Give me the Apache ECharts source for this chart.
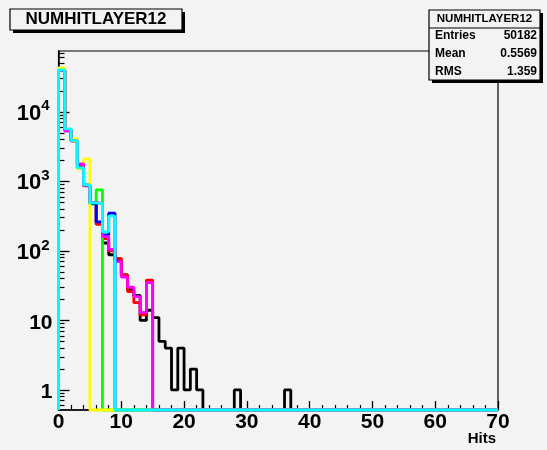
<!DOCTYPE html>
<html>
<head>
<meta charset="utf-8">
<script src="https://cdn.jsdelivr.net/npm/echarts@6/dist/echarts.min.js"></script>
<style>
  html, body { margin: 0; padding: 0; background: #f3f3f3; }
  #chart { width: 547px; height: 450px; }
</style>
</head>
<body>
<div id="chart"></div>
<script>
// ---- Data (bin contents, bins of width 1 starting at 0; bins not listed are empty) ----
var binWidth = 1;
var xTicks = [0, 10, 20, 30, 40, 50, 60, 70];
var yTicks = [1, 10, 100, 1000, 10000];
var blackBins   = [39500, 5400, 3850, 1550, 870, 480, 250, 130, 88, 75, 45, 28, 23, 10, 14, 11, 5, 4, 1, 4, 1, 2, 1, 0, 0, 0, 0, 0, 1, 0, 0, 0, 0, 0, 0, 0, 1];
var redBins     = [39500, 5500, 3800, 1700, 860, 480, 240, 150, 100, 78, 45, 26, 18, 12, 38];
var greenBins   = [39500, 5600, 3850, 1550, 880, 470, 755];
var blueBins    = [39500, 5600, 3850, 1550, 880, 480, 262, 170, 350];
var yellowBins  = [43000, 5600, 4100, 1500, 2100];
var magentaBins = [39500, 5300, 3850, 1790, 880, 500, 480, 160, 105, 70, 42, 30, 22, 13, 35];
var cyanBins    = [40000, 5700, 3850, 1560, 890, 490, 480, 188, 317];
var statsTitle = 'NUMHITLAYER12';
var statsRows = [['Entries', '50182'], ['Mean', '0.5569'], ['RMS', '1.359']];

var X_MIN = 0, X_MAX = 70;
var Y_MIN = 0.515, Y_MAX = 75000;

// Build histogram outline points (empty bins drawn on the frame floor, as ROOT does on log scale)
function stepPoints(bins) {
  var pts = [[X_MIN, Y_MIN]];
  for (var k = X_MIN; k < X_MAX; k += binWidth) {
    var i = Math.round((k - X_MIN) / binWidth);
    var v = i < bins.length ? bins[i] : 0;
    var yv = v > 0 ? v : Y_MIN;
    pts.push([k, yv]);
    pts.push([k + binWidth, yv]);
  }
  return pts;
}

var hists = [
  {name: 'h1', color: '#000000', bins: blackBins},
  {name: 'h2', color: '#ff0000', bins: redBins},
  {name: 'h3', color: '#00ff00', bins: greenBins},
  {name: 'h4', color: '#0000ff', bins: blueBins},
  {name: 'h5', color: '#ffff00', bins: yellowBins},
  {name: 'h6', color: '#ff00ff', bins: magentaBins},
  {name: 'h7', color: '#00ffff', bins: cyanBins}
];

var minorY = [];
[0.1, 1, 10, 100, 1000, 10000].forEach(function (d) {
  for (var m = 2; m <= 9; m++) {
    var v = d * m;
    if (v > Y_MIN && v < Y_MAX) minorY.push(v);
  }
});

var FONT = '"Liberation Sans", Arial, Helvetica, sans-serif';

var chart = echarts.init(document.getElementById('chart'), null, {renderer: 'canvas'});

var option = {
  backgroundColor: '#f3f3f3',
  animation: false,
  grid: {
    left: 58.5, top: 51, right: 49, bottom: 40,
    show: true, borderColor: '#000', borderWidth: 1.2, backgroundColor: 'transparent'
  },
  xAxis: {
    type: 'value', min: X_MIN, max: X_MAX, interval: 10,
    axisLine: {show: true, onZero: false, lineStyle: {color: '#000', width: 1.5}},
    axisTick: {show: true, inside: true, length: 9, lineStyle: {color: '#000', width: 1.3}, customValues: xTicks},
    minorTick: {show: true, splitNumber: 5, length: 5, lineStyle: {color: '#000', width: 1.2}},
    axisLabel: {
      show: true, margin: 2, color: '#000', fontFamily: FONT, fontSize: 21, fontWeight: 'bold',
      customValues: xTicks, showMinLabel: true, showMaxLabel: true
    },
    splitLine: {show: false}
  },
  yAxis: [{
    type: 'log', logBase: 10, min: Y_MIN, max: Y_MAX,
    axisLine: {show: true, lineStyle: {color: '#000', width: 1.5}},
    axisTick: {show: true, inside: true, length: 11, lineStyle: {color: '#000', width: 1.3}, customValues: yTicks},
    axisLabel: {
      show: true, margin: 6, color: '#000', fontFamily: FONT, fontSize: 21, fontWeight: 'bold',
      customValues: yTicks,
      formatter: function (v) {
        var e = Math.round(Math.log(v) / Math.LN10);
        if (e === 0) return '{b|1}';
        if (e === 1) return '{b|10}';
        return '{c|10}{e|' + e + '}';
      },
      rich: {
        b: {fontFamily: FONT, fontSize: 21, fontWeight: 'bold', color: '#000', lineHeight: 26, verticalAlign: 'bottom'},
        c: {fontFamily: FONT, fontSize: 22, fontWeight: 'bold', color: '#000', lineHeight: 26, verticalAlign: 'bottom'},
        e: {fontFamily: FONT, fontSize: 15, fontWeight: 'bold', color: '#000', lineHeight: 15, verticalAlign: 'top', padding: [0, 3, 0, 0]}
      }
    },
    splitLine: {show: false}
  }, {
    type: 'log', logBase: 10, min: Y_MIN, max: Y_MAX, position: 'left', offset: 0,
    axisLine: {show: false},
    axisTick: {show: true, inside: true, length: 6, lineStyle: {color: '#000', width: 1.2}, customValues: minorY},
    axisLabel: {show: false},
    splitLine: {show: false}
  }],
  series: hists.map(function (h, idx) {
    return {
      name: h.name, type: 'line', yAxisIndex: 0, xAxisIndex: 0,
      data: stepPoints(h.bins), showSymbol: false, symbol: 'none', clip: false,
      lineStyle: {color: h.color, width: 2.8},
      z: 2 + idx, silent: true
    };
  }),
  graphic: [
    // Title box with shadow
    {type: 'rect', shape: {x: 13, y: 12, width: 172, height: 21}, style: {fill: '#000'}, z: 50},
    {type: 'rect', shape: {x: 10, y: 9, width: 172, height: 21}, style: {fill: '#f3f3f3', stroke: '#000', lineWidth: 1.2}, z: 51},
    {type: 'text', x: 96, y: 19.5, style: {text: 'NUMHITLAYER12', font: 'bold 17px ' + FONT, fill: '#000', align: 'center', verticalAlign: 'middle'}, z: 52},
    // Stats box with shadow
    {type: 'rect', shape: {x: 432, y: 13, width: 111, height: 70}, style: {fill: '#000'}, z: 50},
    {type: 'rect', shape: {x: 429, y: 10, width: 111, height: 70}, style: {fill: '#f3f3f3', stroke: '#000', lineWidth: 1.2}, z: 51},
    {type: 'line', shape: {x1: 429, y1: 28, x2: 540, y2: 28}, style: {stroke: '#000', lineWidth: 1.2}, z: 52},
    {type: 'text', x: 484.5, y: 19, style: {text: statsTitle, font: 'bold 11.5px ' + FONT, fill: '#000', align: 'center', verticalAlign: 'middle'}, z: 52}
  ].concat(statsRows.map(function (r, i) {
    return {type: 'text', x: 435, y: 36 + i * 18, style: {text: r[0], font: 'bold 12px ' + FONT, fill: '#000', align: 'left', verticalAlign: 'middle'}, z: 52};
  })).concat(statsRows.map(function (r, i) {
    return {type: 'text', x: 537, y: 36 + i * 18, style: {text: r[1], font: 'bold 12px ' + FONT, fill: '#000', align: 'right', verticalAlign: 'middle'}, z: 52};
  })).concat([
    {type: 'text', x: 496, y: 439, style: {text: 'Hits', font: 'bold 15px ' + FONT, fill: '#000', align: 'right', verticalAlign: 'middle'}, z: 52}
  ])
};

chart.setOption(option);
</script>
</body>
</html>
